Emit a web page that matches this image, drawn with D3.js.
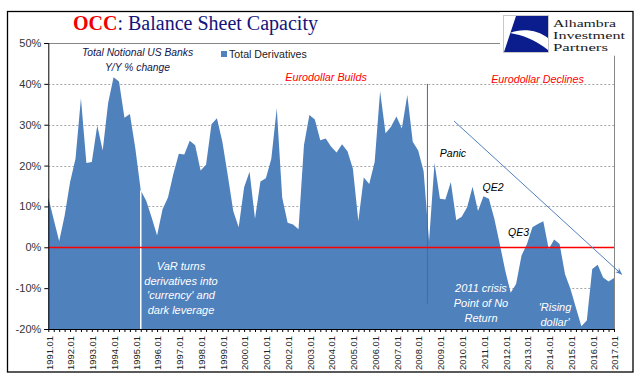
<!DOCTYPE html>
<html>
<head>
<meta charset="utf-8">
<script src="https://cdn.jsdelivr.net/npm/d3@7"></script>
<style>
  html, body { margin: 0; padding: 0; background: #fff; }
  svg { display: block; }
</style>
</head>
<body>
<script>
// ---------- data ----------
const startYear = 1991;
const endYear = 2017;
const quarterSuffixes = ["01", "04", "07", "10"];
// quarterly categories 1991.01 ... 2017.01
const categories = [];
for (let y = startYear; y <= endYear; y++) {
  for (const q of quarterSuffixes) {
    if (y === endYear && q !== "01") break;
    categories.push(y + "." + q);
  }
}
// Total Derivatives, Y/Y % change
const totalDerivatives = [
  12.2, 6.8, 1.5, 7.7, 15.9, 21.7, 36.5, 20.6, 20.9, 29.8, 23.7, 35.3,
  41.6, 40.6, 31.7, 32.6, 24.2, 13.9, 11.4, 7.3, 2.9, 9.3, 12.2, 18.0,
  22.9, 22.7, 26.1, 25.0, 18.8, 20.2, 30.1, 31.6, 25.8, 17.6, 8.9, 4.9,
  14.7, 18.5, 7.0, 16.1, 16.9, 21.7, 34.0, 12.2, 6.0, 5.6, 4.4, 25.0,
  32.4, 31.3, 26.2, 26.6, 24.6, 23.2, 25.2, 23.5, 19.2, 6.4, 17.1, 15.5,
  20.9, 38.2, 27.9, 29.5, 32.0, 29.1, 37.3, 25.8, 23.7, 18.6, 1.5, 20.6,
  11.9, 11.7, 16.0, 6.6, 7.5, 9.8, 14.8, 8.9, 12.5, 11.9, 7.0, 0.8,
  -5.7, -11.1, -9.0, -2.0, 0.8, 4.9, 5.7, 6.4, -0.4, 1.9, 0.8, -6.6,
  -10.2, -14.8, -19.3, -17.9, -5.3, -4.3, -7.4, -8.4, -7.5
];
const yTicks = [-20, -10, 0, 10, 20, 30, 40, 50];
const xTickLabels = categories.filter(c => c.endsWith(".01"));
const seriesName = "Total Derivatives";
// markers: white VaR line, dark crisis line (category index, value range)
const varLine = { idx: 17 };
const crisisLine = { idx: 69.7, from: 40, to: -13.8 };
const trendArrow = { fromIdx: 74.6, fromVal: 30.9, toIdx: 105.4, toVal: -6.6 };

// ---------- layout ----------
const W = 641, H = 381;
const svg = d3.select("body").append("svg").attr("width", W).attr("height", H);

const x0 = 48.3, x1 = 614, yTop = 43, yBot = 329;
const xIdx = d3.scaleLinear().domain([0, categories.length - 1]).range([x0, x1]);
const xPt = d3.scalePoint().domain(categories).range([x0, x1]);
const y = d3.scaleLinear().domain([-20, 50]).range([yBot, yTop]);

const blue = "#4f81bd";

// outer frame
svg.append("rect").attr("x", 7.5).attr("y", 11.5).attr("width", 625.5).attr("height", 360.5)
  .attr("fill", "#fff").attr("stroke", "#000").attr("stroke-width", 1.3);

// gridlines
svg.append("g").selectAll("line").data(yTicks.filter(t => t !== 0 && t !== -20 && t !== 50)).join("line")
  .attr("x1", x0).attr("x2", x1).attr("y1", d => Math.round(y(d)) + 0.5).attr("y2", d => Math.round(y(d)) + 0.5)
  .attr("stroke", "#a6a6a6").attr("stroke-width", 1).attr("stroke-dasharray", "2,2");

// plot area border (top + right, gray)
svg.append("path")
  .attr("d", `M${x0},${yTop + 0.5}H${x1 + 0.5}V${yBot}`)
  .attr("fill", "none").attr("stroke", "#868686").attr("stroke-width", 1);

// area
const area = d3.area()
  .x((d, i) => xPt(categories[i]))
  .y0(y(-20))
  .y1(d => y(d));
svg.append("path").datum(totalDerivatives).attr("d", area).attr("fill", blue);

// white VaR line
svg.append("line")
  .attr("x1", xIdx(varLine.idx)).attr("x2", xIdx(varLine.idx))
  .attr("y1", y(-20)).attr("y2", y(totalDerivatives[varLine.idx]))
  .attr("stroke", "#fff").attr("stroke-width", 1.5);

// crisis line
svg.append("line")
  .attr("x1", xIdx(crisisLine.idx)).attr("x2", xIdx(crisisLine.idx))
  .attr("y1", y(crisisLine.from)).attr("y2", y(crisisLine.to))
  .attr("stroke", "#3f6ca6").attr("stroke-width", 1);

// zero line red
svg.append("line").attr("x1", x0).attr("x2", x1)
  .attr("y1", Math.round(y(0)) + 0.5).attr("y2", Math.round(y(0)) + 0.5)
  .attr("stroke", "#ff0000").attr("stroke-width", 1.6);

// axes
const yAxis = d3.axisLeft(y).tickValues(yTicks).tickFormat(d => d + "%").tickSize(4).tickPadding(3);
const gy = svg.append("g").attr("transform", `translate(${x0},0)`).call(yAxis);
gy.select(".domain").attr("stroke", "#000");
gy.selectAll(".tick line").attr("stroke", "#000");
gy.selectAll("text").attr("font-family", "Liberation Sans, Arial, sans-serif").attr("font-size", 11)
  .attr("fill", "#333");

const xAxis = d3.axisBottom(xPt).tickSize(3).tickFormat("");
const gx = svg.append("g").attr("transform", `translate(0,${yBot})`).call(xAxis);
gx.select(".domain").attr("stroke", "#000").attr("d", `M${x0},0.5H${x1}`);
gx.selectAll(".tick line").attr("stroke", "#000");

svg.append("g").selectAll("text").data(xTickLabels).join("text")
  .attr("transform", d => `translate(${xPt(d) + 1},336) rotate(-90)`)
  .attr("text-anchor", "end").attr("dy", "0.35em")
  .attr("font-family", "Liberation Sans, Arial, sans-serif").attr("font-size", 9.4)
  .attr("fill", "#222").text(d => d);

// trend arrow
const defs = svg.append("defs");
defs.append("marker").attr("id", "ah").attr("viewBox", "0 0 10 10")
  .attr("refX", 9).attr("refY", 5).attr("markerWidth", 7).attr("markerHeight", 7)
  .attr("orient", "auto")
  .append("path").attr("d", "M0,1L10,5L0,9L3,5Z").attr("fill", blue);
svg.append("line")
  .attr("x1", xIdx(trendArrow.fromIdx)).attr("y1", y(trendArrow.fromVal))
  .attr("x2", xIdx(trendArrow.toIdx)).attr("y2", y(trendArrow.toVal))
  .attr("stroke", blue).attr("stroke-width", 1).attr("marker-end", "url(#ah)");

// legend
svg.append("rect").attr("x", 221).attr("y", 51).attr("width", 6).attr("height", 6).attr("fill", blue);
svg.append("text").attr("x", 229).attr("y", 58)
  .attr("font-family", "Liberation Sans, Arial, sans-serif").attr("font-size", 10.6)
  .attr("fill", "#222").text(seriesName);

// title
const title = svg.append("text").attr("x", 73).attr("y", 30)
  .attr("font-family", "Liberation Serif, Times New Roman, serif").attr("font-size", 20);
title.append("tspan").attr("fill", "#f00000").attr("font-weight", "bold").text("OCC");
title.append("tspan").attr("fill", "#14147a").text(": Balance Sheet Capacity");

// annotations
function note(lines, cx, cy, color, size, lh) {
  const t = svg.append("text").attr("text-anchor", "middle")
    .attr("font-family", "Liberation Sans, Arial, sans-serif").attr("font-style", "italic")
    .attr("font-size", size).attr("fill", color);
  lines.forEach((l, i) => t.append("tspan").attr("x", cx).attr("y", cy + i * lh).text(l));
}
note(["Total Notional US Banks", "Y/Y % change"], 137.5, 56, "#14144a", 10.3, 15);
note(["Eurodollar Builds"], 326, 81, "#ff0000", 10.8, 14);
note(["Eurodollar Declines"], 537.5, 83, "#ff0000", 10.7, 14);
note(["Panic"], 453, 157, "#000", 10.5, 14);
note(["QE2"], 493, 191, "#000", 10.5, 14);
note(["QE3"], 518.5, 236, "#000", 10.5, 14);
note(["VaR turns", "derivatives into", "'currency' and", "dark leverage"], 181, 270, "#fff", 11, 14.7);
note(["2011 crisis", "Point of No", "Return"], 481, 292, "#fff", 11, 15);
note(["'Rising", "dollar'"], 555, 311, "#fff", 11, 14.5);

// logo
svg.append("rect").attr("x", 500).attr("y", 12.2).attr("width", 132).attr("height", 43.5).attr("fill", "#fff");
svg.append("rect").attr("x", 503.5).attr("y", 15.5).attr("width", 45).attr("height", 37)
  .attr("fill", "#fff").attr("stroke", "#c8c8c8").attr("stroke-width", 1);
svg.append("path").attr("d", "M516,16L548,16L548,52L504,52Z").attr("fill", "#0b1d8c");
svg.append("path").attr("d", "M510,33C522,28 538,30 548,38L548,50C536,40 522,35 510,33Z").attr("fill", "#fff");
const logoLines = ["Alhambra", "Investment", "Partners"];
const logoW = [63, 72, 55];
svg.append("g").selectAll("text").data(logoLines).join("text")
  .attr("x", 553).attr("y", (d, i) => 26.5 + i * 12.2)
  .attr("font-family", "Liberation Serif, Times New Roman, serif").attr("font-size", 10.6)
  .attr("fill", "#1a1a1a")
  .attr("textLength", (d, i) => logoW[i]).attr("lengthAdjust", "spacingAndGlyphs")
  .text(d => d);
</script>
</body>
</html>
